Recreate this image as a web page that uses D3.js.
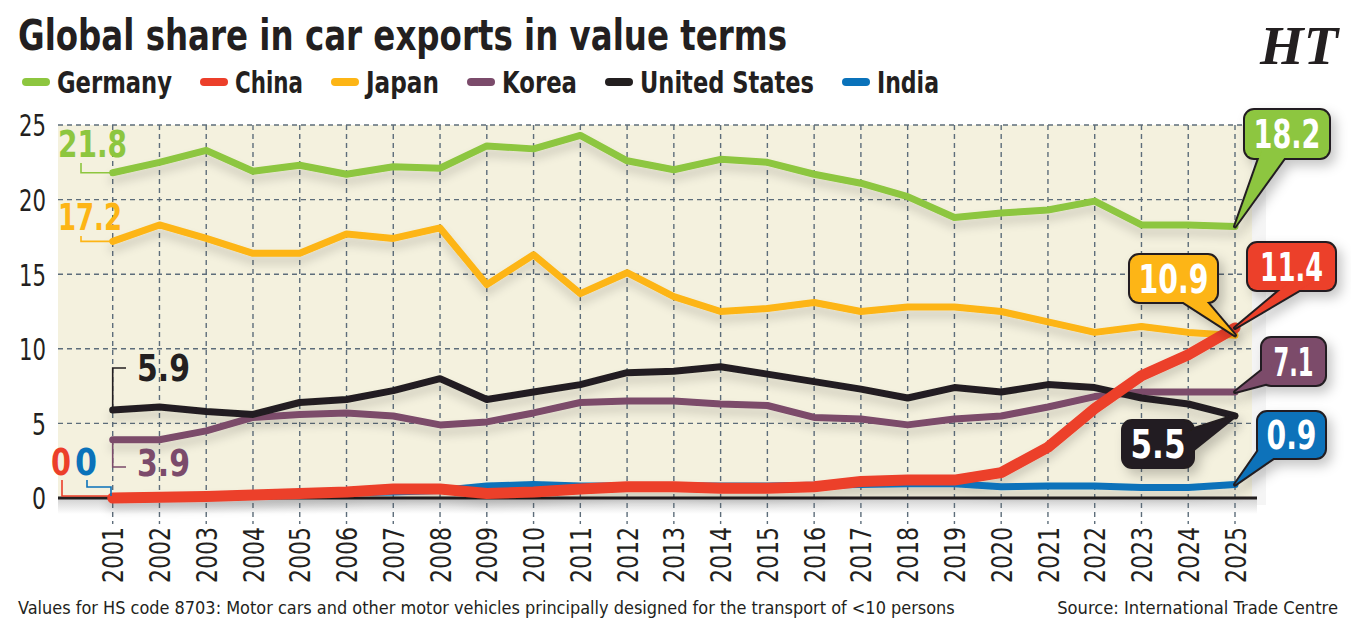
<!DOCTYPE html>
<html>
<head>
<meta charset="utf-8">
<script src="https://d3js.org/d3.v7.min.js"></script>
<style>
  body { margin: 0; background: #fff; }
  text { font-family: "Liberation Sans Narrow", "DejaVu Sans Condensed", sans-serif; fill: #231f20; }
</style>
</head>
<body>
<div id="chart"></div>
<script>
// data (share of global car exports, %)
var years = [2001, 2002, 2003, 2004, 2005, 2006, 2007, 2008, 2009, 2010, 2011, 2012, 2013,
             2014, 2015, 2016, 2017, 2018, 2019, 2020, 2021, 2022, 2023, 2024, 2025];
var germany = [21.8, 22.5, 23.3, 21.9, 22.3, 21.7, 22.2, 22.1, 23.6, 23.4, 24.3, 22.6, 22.0,
               22.7, 22.5, 21.7, 21.1, 20.2, 18.8, 19.1, 19.3, 19.9, 18.3, 18.3, 18.2];
var japan = [17.2, 18.3, 17.4, 16.4, 16.4, 17.7, 17.4, 18.1, 14.3, 16.3, 13.7, 15.1, 13.5,
             12.5, 12.7, 13.1, 12.5, 12.8, 12.8, 12.5, 11.8, 11.1, 11.5, 11.1, 10.9];
var unitedStates = [5.9, 6.1, 5.8, 5.6, 6.4, 6.6, 7.2, 8.0, 6.6, 7.1, 7.6, 8.4, 8.5,
                    8.8, 8.3, 7.8, 7.3, 6.7, 7.4, 7.1, 7.6, 7.4, 6.7, 6.3, 5.5];
var korea = [3.9, 3.9, 4.5, 5.4, 5.6, 5.7, 5.5, 4.9, 5.1, 5.7, 6.4, 6.5, 6.5,
             6.3, 6.2, 5.4, 5.3, 4.9, 5.3, 5.5, 6.1, 6.8, 7.1, 7.1, 7.1];
var china = [0, 0.05, 0.1, 0.2, 0.3, 0.4, 0.6, 0.6, 0.3, 0.4, 0.6, 0.75, 0.75,
             0.65, 0.65, 0.75, 1.1, 1.2, 1.2, 1.7, 3.4, 6.0, 8.2, 9.6, 11.4];
var india = [0, 0.1, 0.15, 0.2, 0.3, 0.35, 0.4, 0.5, 0.8, 0.9, 0.8, 0.8, 0.8,
             0.8, 0.8, 0.85, 0.9, 0.95, 0.95, 0.75, 0.8, 0.8, 0.7, 0.7, 0.9];
var yTicks = [0, 5, 10, 15, 20, 25];
var legendNames = ["Germany", "China", "Japan", "Korea", "United States", "India"];
var colors = {Germany: "#8dc63f", China: "#ec3f2a", Japan: "#fdb515", Korea: "#7b4b6b",
              "United States": "#231f20", India: "#0a72ba"};

var series = [
  {name: "India", values: india, w: 7},
  {name: "Korea", values: korea, w: 7},
  {name: "United States", values: unitedStates, w: 7},
  {name: "Japan", values: japan, w: 7},
  {name: "Germany", values: germany, w: 7},
  {name: "China", values: china, w: 11}
];

var width = 1351, height = 625;
var plotLeft = 58, plotRight = 1252;
// the condensed face is wider than the original, so squeeze text to the measured widths
function fit(sel, len) {
  return sel.attr("textLength", len).attr("lengthAdjust", "spacingAndGlyphs");
}
// for long lines: shrink the font until the natural width matches
function shrink(sel, len) {
  var size = parseFloat(sel.style("font-size"));
  var w = sel.node().getComputedTextLength();
  if (w > len) sel.style("font-size", (size * len / w) + "px");
  return sel;
}

var svg = d3.select("#chart").append("svg")
    .attr("width", width).attr("height", height);

var defs = svg.append("defs");
defs.append("filter").attr("id", "lineShadow")
    .attr("x", "-5%").attr("y", "-20%").attr("width", "110%").attr("height", "160%")
  .append("feDropShadow")
    .attr("dx", 0).attr("dy", 7).attr("stdDeviation", 5)
    .attr("flood-color", "#000").attr("flood-opacity", 0.16);
defs.append("filter").attr("id", "boxShadow")
    .attr("x", "-30%").attr("y", "-30%").attr("width", "170%").attr("height", "170%")
  .append("feDropShadow")
    .attr("dx", 5).attr("dy", 6).attr("stdDeviation", 6)
    .attr("flood-color", "#000").attr("flood-opacity", 0.22);
var under = defs.append("linearGradient").attr("id", "under")
    .attr("x1", 0).attr("y1", 0).attr("x2", 0).attr("y2", 1);
under.append("stop").attr("offset", "0%").attr("stop-color", "#cfcfcf");
under.append("stop").attr("offset", "100%").attr("stop-color", "#fff");

// scales
var x = d3.scalePoint().domain(years).range([112.7, 1235]);
var y = d3.scaleLinear().domain([0, 25]).range([498, 125]);

// title
fit(svg.append("text")
    .attr("x", 18).attr("y", 50)
    .style("font-size", "42px").style("font-weight", "bold")
    .text("Global share in car exports in value terms"), 769);

// HT logo
fit(svg.append("text")
    .attr("x", 1299).attr("y", 64)
    .attr("text-anchor", "middle")
    .style("font-family", "'Liberation Serif', serif")
    .style("font-size", "54px").style("font-weight", "bold").style("font-style", "italic")
    .text("HT"), 78);

// legend
var legendWidths = {Germany: 115, China: 68, Japan: 73, Korea: 75, "United States": 174, India: 62};
var legend = svg.append("g");
var lx = 22;
legendNames.forEach(function(name) {
  legend.append("line")
      .attr("x1", lx + 4).attr("x2", lx + 24)
      .attr("y1", 82).attr("y2", 82)
      .attr("stroke", colors[name]).attr("stroke-width", 8)
      .attr("stroke-linecap", "round");
  fit(legend.append("text")
      .attr("x", lx + 35).attr("y", 93)
      .style("font-size", "30px").style("font-weight", "bold")
      .text(name), legendWidths[name]);
  lx += 35 + legendWidths[name] + 28;
});

// plot background
svg.append("rect")
    .attr("x", plotRight).attr("y", 125).attr("width", 14).attr("height", 380)
    .attr("fill", "#efefef").attr("opacity", 0.6);
svg.append("rect")
    .attr("x", plotLeft).attr("y", 498).attr("width", plotRight - plotLeft + 5).attr("height", 16)
    .attr("fill", "url(#under)");
svg.append("rect")
    .attr("x", plotLeft).attr("y", y(25))
    .attr("width", plotRight - plotLeft).attr("height", y(0) - y(25))
    .attr("fill", "#f4f1de");

// grid
var grid = svg.append("g")
    .attr("stroke", "#5d6d7a").attr("stroke-width", 1.4).attr("stroke-dasharray", "5,4");
grid.selectAll("line.h").data(yTicks.filter(function(d) { return d > 0; }))
  .enter().append("line")
    .attr("x1", plotLeft).attr("x2", plotRight)
    .attr("y1", function(d) { return y(d); }).attr("y2", function(d) { return y(d); });
grid.selectAll("line.v").data(years)
  .enter().append("line")
    .attr("x1", function(d) { return x(d); }).attr("x2", function(d) { return x(d); })
    .attr("y1", y(25)).attr("y2", 524);

// y axis labels
var yAxis = svg.append("g")
    .attr("transform", "translate(46,0)")
    .call(d3.axisLeft(y).tickValues(yTicks).tickSize(0).tickPadding(0));
yAxis.select(".domain").remove();
yAxis.selectAll("text")
    .attr("dy", "0.36em")
    .attr("textLength", function(d) { return d >= 10 ? 27 : 14; })
    .attr("lengthAdjust", "spacingAndGlyphs")
    .style("font-size", "30px").style("font-family", "'Liberation Sans Narrow', 'DejaVu Sans Condensed', sans-serif")
    .attr("fill", "#231f20");

// x axis labels
var xAxis = svg.append("g")
    .attr("transform", "translate(0,527)")
    .call(d3.axisBottom(x).tickSize(0));
xAxis.select(".domain").remove();
xAxis.selectAll("text")
    .attr("transform", "rotate(-90)")
    .attr("text-anchor", "end")
    .attr("x", 0).attr("y", 0).attr("dy", "0.36em")
    .attr("textLength", 56).attr("lengthAdjust", "spacingAndGlyphs")
    .style("font-size", "28px").style("font-family", "'Liberation Sans Narrow', 'DejaVu Sans Condensed', sans-serif")
    .attr("fill", "#231f20");

// baseline
svg.append("line")
    .attr("x1", plotLeft).attr("x2", 1257)
    .attr("y1", y(0)).attr("y2", y(0))
    .attr("stroke", "#231f20").attr("stroke-width", 3);

// lines
var line = d3.line()
    .x(function(d, i) { return x(years[i]); })
    .y(function(d) { return y(d); });

svg.append("g").attr("filter", "url(#lineShadow)")
  .selectAll("path").data(series)
  .enter().append("path")
    .attr("d", function(d) { return line(d.values); })
    .attr("fill", "none")
    .attr("stroke", function(d) { return colors[d.name]; })
    .attr("stroke-width", function(d) { return d.w; })
    .attr("stroke-linejoin", "round")
    .attr("stroke-linecap", "round");

// start labels
var x0 = x(years[0]);
var starts = svg.append("g").attr("fill", "none").attr("stroke-width", 1.6);
function startLabel(txt, color, tx, ty, path, len) {
  starts.append("path").attr("d", path).attr("stroke", color);
  fit(svg.append("text")
      .attr("x", tx).attr("y", ty)
      .style("font-size", "38px").style("font-weight", "bold")
      .style("fill", color)
      .text(txt), len);
}
startLabel(germany[0].toFixed(1), colors.Germany, 58, 157,
    "M81,163V" + y(germany[0]) + "H" + x0, 69);
startLabel(japan[0].toFixed(1), colors.Japan, 58, 230,
    "M81,236V" + y(japan[0]) + "H" + x0, 64);
startLabel(unitedStates[0].toFixed(1), colors["United States"], 137, 381,
    "M126,368H" + x0 + "V" + y(unitedStates[0]), 53);
startLabel(korea[0].toFixed(1), colors.Korea, 137, 476,
    "M" + x0 + "," + y(korea[0]) + "V467H126", 53);
startLabel(String(china[0]), colors.China, 51, 475,
    "M62,480V" + (y(0) - 2) + "H" + x0, 20);
startLabel(String(india[0]), colors.India, 75, 475,
    "M87,480V487H111V" + (y(0) - 2), 22);

// end callouts
var xe = x(years[years.length - 1]);
var last = years.length - 1;
var callouts = [
  {name: "Germany", v: germany[last], len: 67, box: [1245, 110, 84, 48], base: [[1262, 150], [1290, 150]]},
  {name: "China", v: china[last], len: 63, box: [1248, 243, 87, 47], base: [[1290, 282], [1313, 282]]},
  {name: "Japan", v: japan[last], len: 70, box: [1130, 255, 87, 47], base: [[1171, 294], [1200, 294]]},
  {name: "Korea", v: korea[last], len: 40, box: [1262, 338, 63, 47], base: [[1270, 364], [1280, 380]]},
  {name: "United States", v: unitedStates[last], len: 55, box: [1123, 421, 70, 46], base: [[1185, 432], [1185, 456]]},
  {name: "India", v: india[last], len: 50, box: [1258, 412, 67, 46], base: [[1266, 440], [1282, 452]]}
];
callouts.forEach(function(c) {
  var g = svg.append("g").attr("filter", "url(#boxShadow)");
  var tip = [xe, y(c.v)];
  var tri = [c.base[0], c.base[1], tip];
  var b = c.box;
  // outline layer
  g.append("rect").attr("x", b[0]).attr("y", b[1]).attr("width", b[2]).attr("height", b[3])
      .attr("rx", 9).attr("fill", "#231f20").attr("stroke", "#231f20").attr("stroke-width", 4);
  g.append("polygon").attr("points", tri.join(" "))
      .attr("fill", "#231f20").attr("stroke", "#231f20").attr("stroke-width", 4)
      .attr("stroke-linejoin", "round");
  // fill layer
  g.append("rect").attr("x", b[0]).attr("y", b[1]).attr("width", b[2]).attr("height", b[3])
      .attr("rx", 9).attr("fill", colors[c.name]);
  g.append("polygon").attr("points", tri.join(" ")).attr("fill", colors[c.name]);
  fit(svg.append("text")
      .attr("x", b[0] + b[2] / 2).attr("y", b[1] + b[3] / 2 + 14)
      .attr("text-anchor", "middle")
      .style("font-size", "39px").style("font-weight", "bold")
      .style("fill", "#fff")
      .text(c.v.toFixed(1)), c.len);
});

// footer
shrink(svg.append("text")
    .attr("x", 18).attr("y", 614)
    .style("font-size", "21px")
    .text("Values for HS code 8703: Motor cars and other motor vehicles principally designed for the transport of <10 persons"), 937);
shrink(svg.append("text")
    .attr("x", 1338).attr("y", 614)
    .attr("text-anchor", "end")
    .style("font-size", "21px")
    .text("Source: International Trade Centre"), 281);
</script>
</body>
</html>
